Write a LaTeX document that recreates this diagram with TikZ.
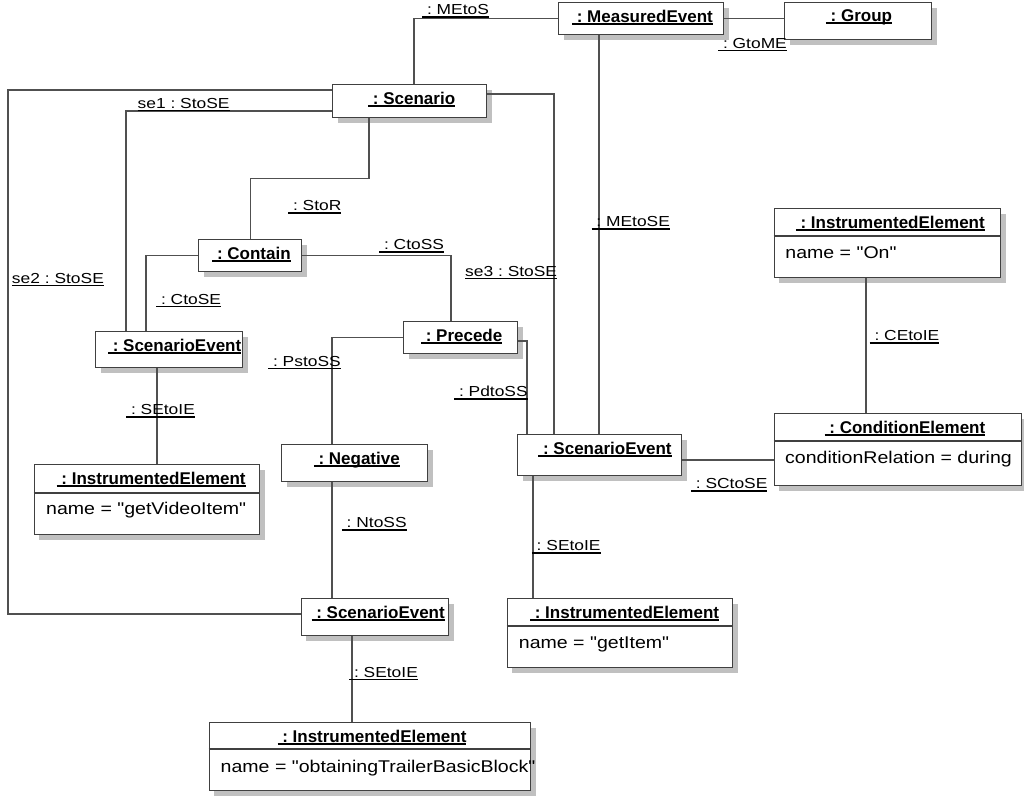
\documentclass[tikz,border=0pt]{standalone}
\usepackage{fontspec}
\setmainfont{Liberation Sans}
\newfontfamily\lblfont[FakeStretch=1.2]{Liberation Sans}
\newfontfamily\attfont[FakeStretch=1.15]{Liberation Sans}
\usetikzlibrary{shadows,calc}
\definecolor{boxline}{RGB}{64,64,64}
\definecolor{conline}{RGB}{80,80,80}
\definecolor{shadowc}{RGB}{192,192,192}
\frenchspacing
\newcommand\uln[2]{\setbox0\hbox{#2}\rlap{\rule[-3.2pt]{\wd0}{#1}}\box0}
\tikzset{
 objbox/.style={draw=boxline, line width=1.3pt, fill=white, inner sep=0pt, anchor=north west,
   drop shadow={shadow xshift=5pt, shadow yshift=-5pt, fill=shadowc, opacity=1}},
 ttl/.style={anchor=base, inner sep=0pt, font=\fontsize{17}{20}\selectfont\bfseries},
 att/.style={anchor=base west, inner sep=0pt, font=\fontsize{17}{20}\attfont},
 lbl/.style={anchor=base west, inner sep=0pt, font=\fontsize{14.5}{17}\lblfont},
 con/.style={draw=conline, line width=1.1pt},
 divline/.style={draw=boxline, line width=1.3pt}
}
\begin{document}
\begin{tikzpicture}[x=1pt,y=-1pt]
\useasboundingbox (0,0) rectangle (1024,798);
% boxes
\node[objbox, minimum width=165pt, minimum height=32pt] (me) at (558,2) {};
\node[objbox, minimum width=147pt, minimum height=37pt] (grp) at (784,2) {};
\node[objbox, minimum width=154pt, minimum height=33pt] (scen) at (332,84) {};
\node[objbox, minimum width=103pt, minimum height=32pt] (contain) at (198,239) {};
\node[objbox, minimum width=147pt, minimum height=36pt] (se1) at (95,331) {};
\node[objbox, minimum width=114pt, minimum height=32pt] (prec) at (403,321) {};
\node[objbox, minimum width=146pt, minimum height=37pt] (neg) at (281,444) {};
\node[objbox, minimum width=164pt, minimum height=41pt] (se2) at (517,434) {};
\node[objbox, minimum width=147.5pt, minimum height=37pt] (se3) at (300.5,598) {};
\node[objbox, minimum width=225.5pt, minimum height=70pt] (ie1) at (33.5,464) {};
\node[objbox, minimum width=225.5pt, minimum height=69pt] (ie2) at (506.5,598) {};
\node[objbox, minimum width=321.5pt, minimum height=68pt] (ie3) at (208.5,722) {};
\node[objbox, minimum width=226.5pt, minimum height=69pt] (ieon) at (773.5,208) {};
\node[objbox, minimum width=247.5pt, minimum height=72pt] (cond) at (773.5,413) {};
% dividers
\draw[divline] ($(ie1.north west)+(0,29)$) -- ($(ie1.north east)+(0,29)$);
\draw[divline] ($(ie2.north west)+(0,28)$) -- ($(ie2.north east)+(0,28)$);
\draw[divline] ($(ie3.north west)+(0,27)$) -- ($(ie3.north east)+(0,27)$);
\draw[divline] ($(ieon.north west)+(0,28)$) -- ($(ieon.north east)+(0,28)$);
\draw[divline] ($(cond.north west)+(0,28)$) -- ($(cond.north east)+(0,28)$);
% titles
\node[ttl] (meT) at (642.5,22) {\uln{1.8pt}{\ : MeasuredEvent}};
\node[ttl] (grpT) at (859,21) {\uln{1.8pt}{\ : Group}};
\node[ttl] (scenT) at (411.7,104) {\uln{1.8pt}{\ : Scenario}};
\node[ttl] (containT) at (251.5,259) {\uln{1.8pt}{\ : Contain}};
\node[ttl] (se1T) at (174.7,351) {\uln{1.8pt}{\ : ScenarioEvent}};
\node[ttl] (precT) at (461.7,341) {\uln{1.8pt}{\ : Precede}};
\node[ttl] (negT) at (356.8,464) {\uln{1.8pt}{\ : Negative}};
\node[ttl] (se2T) at (605,454) {\uln{1.8pt}{\ : ScenarioEvent}};
\node[ttl] (se3T) at (378.2,618) {\uln{1.8pt}{\ : ScenarioEvent}};
\node[ttl] (ie1T) at (151.2,484) {\uln{1.8pt}{\ : InstrumentedElement}};
\node[ttl] (ie2T) at (624.6,618) {\uln{1.8pt}{\ : InstrumentedElement}};
\node[ttl] (ie3T) at (372,742) {\uln{1.8pt}{\ : InstrumentedElement}};
\node[ttl] (ieonT) at (890.3,228) {\uln{1.8pt}{\ : InstrumentedElement}};
\node[ttl] (condT) at (905,433) {\uln{1.8pt}{\ : ConditionElement}};
% attributes
\node[att] (ie1A) at (46,514) {name = "getVideoItem"};
\node[att] (ie2A) at (518.7,648) {name = "getItem"};
\node[att] (ie3A) at (220.5,772) {name = "obtainingTrailerBasicBlock"};
\node[att] (ieonA) at (785.2,258) {name = "On"};
\node[att] (condA) at (785,463) {conditionRelation = during};
% connectors
\coordinate (lt) at (8,90);
\coordinate (lb) at (8,614);
\draw[con] ($(scen.north west)+(0,6)$) -- (lt) -- (lb) -- (lb -| se3.west);
\draw[con] ($(scen.north west)+(82,0)$) |- (me.west);
\draw[con] (me.east) -- (me.east -| grp.west);
\draw[con] ($(me.south west)+(41,0)$) -- ($(se2.north west)+(82,0)$);
\draw[con] ($(scen.north east)+(0,10)$) -| ($(se2.north west)+(37,0)$);
\draw[con] ($(scen.north west)+(0,27)$) -| ($(se1.north west)+(31,0)$);
\draw[con] ($(scen.south west)+(37,0)$) -- ++(0,60) -| (contain.north);
\draw[con] (contain.east) -| ($(prec.north west)+(48,0)$);
\draw[con] (contain.west) -| ($(se1.north west)+(51,0)$);
\draw[con] (prec.west) -| ($(neg.north west)+(51,0)$);
\draw[con] ($(prec.north east)+(0,20)$) -| ($(se2.north west)+(10,0)$);
\draw[con] ($(neg.south west)+(51,0)$) -- ($(se3.north west)+(31.5,0)$);
\draw[con] ($(se1.south west)+(62,0)$) -- ($(ie1.north west)+(123.5,0)$);
\draw[con] ($(se3.south west)+(51.5,0)$) -- ($(ie3.north west)+(143.5,0)$);
\draw[con] ($(se2.south west)+(16,0)$) -- ($(ie2.north west)+(26.5,0)$);
\draw[con] ($(se2.north east)+(0,26)$) -- ($(cond.north west)+(0,47)$);
\draw[con] ($(ieon.south west)+(92.5,0)$) -- ($(cond.north west)+(92.5,0)$);
% labels
\node[lbl] (l1) at (422,14.5) {\uln{1.5pt}{\ : MEtoS}};
\node[lbl] (l2) at (718,48) {\uln{1.5pt}{\ : GtoME}};
\node[lbl] (l3) at (137.5,108) {\uln{1.5pt}{se1 : StoSE}};
\node[lbl] (l4) at (11.8,283) {\uln{1.5pt}{se2 : StoSE}};
\node[lbl] (l5) at (288,210.7) {\uln{1.5pt}{\ : StoR}};
\node[lbl] (l6) at (379,249.3) {\uln{1.5pt}{\ : CtoSS}};
\node[lbl] (l7) at (156,304) {\uln{1.5pt}{\ : CtoSE}};
\node[lbl] (l8) at (268,366) {\uln{1.5pt}{\ : PstoSS}};
\node[lbl] (l9) at (465,276) {\uln{1.5pt}{se3 : StoSE}};
\node[lbl] (l10) at (591.4,226.7) {\uln{1.5pt}{\ : MEtoSE}};
\node[lbl] (l11) at (454,396.7) {\uln{1.5pt}{\ : PdtoSS}};
\node[lbl] (l12) at (869.5,340.7) {\uln{1.5pt}{\ : CEtoIE}};
\node[lbl] (l13) at (690.8,488.3) {\uln{1.5pt}{\ : SCtoSE}};
\node[lbl] (l14) at (126,414.3) {\uln{1.5pt}{\ : SEtoIE}};
\node[lbl] (l15) at (341.7,527.3) {\uln{1.5pt}{\ : NtoSS}};
\node[lbl] (l16) at (349,677) {\uln{1.5pt}{\ : SEtoIE}};
\node[lbl] (l17) at (531.7,550.7) {\uln{1.5pt}{\ : SEtoIE}};
\end{tikzpicture}
\end{document}
